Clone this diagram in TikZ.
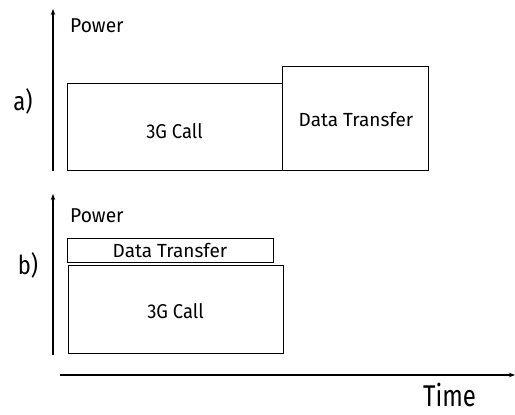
\documentclass[tikz,border=0pt]{standalone}
\usepackage{fontspec}
\setmainfont{Fira Sans}
\newfontfamily\timefont[FakeStretch=0.8]{Fira Sans}
\newfontfamily\callfont[FakeStretch=0.92]{Fira Sans}
\newfontfamily\powfont[FakeStretch=0.96]{Fira Sans}
\newfontfamily\lblfont[FakeStretch=0.85]{Fira Sans}
\usetikzlibrary{arrows.meta}
\begin{document}
\begin{tikzpicture}[x=1pt,y=-1pt,
  blk/.style={draw,line width=1pt,inner sep=0pt},
  axis/.style={line width=1.2pt,-{Stealth[length=6pt,width=4.5pt]}},
  pow/.style={inner sep=0pt,font=\powfont\fontsize{20}{22}\selectfont},
  call/.style={inner sep=0pt,font=\callfont\fontsize{20}{22}\selectfont},
  dt/.style={inner sep=0pt,font=\fontsize{19}{22}\selectfont},
  big/.style={inner sep=0pt,font=\lblfont\fontsize{26}{28}\selectfont}]
\useasboundingbox (0,0) rectangle (515,415);
% panel a
\coordinate (a0) at (53,171);
\coordinate (a1) at (53,9);
\draw[axis] (a0) -- (a1);
\node[pow,anchor=base west] (pa) at (70,32) {Power};
\node[big] (la) at (23,101) {a)};
\node[blk,minimum width=215pt,minimum height=87pt] (calla) at (174.5,126.5) {};
\node[call,anchor=base] (calltxta) at (174.5,138) {3G Call};
\node[blk,minimum width=146pt,minimum height=104pt] (dta) at (355,118) {};
\node[dt,anchor=base] (dttxta) at (356,126) {Data Transfer};
% panel b
\coordinate (b0) at (53,355);
\coordinate (b1) at (53,194);
\draw[axis] (b0) -- (b1);
\node[pow,anchor=base west] (pb) at (70,222) {Power};
\node[big] (lb) at (28,265) {b)};
\node[blk,minimum width=206pt,minimum height=24pt] (dtb) at (170,250) {};
\node[dt,anchor=base] (dttxtb) at (170,257) {Data Transfer};
\node[blk,minimum width=215pt,minimum height=88pt] (callb) at (175.5,309) {};
\node[call,anchor=base] (calltxtb) at (175.5,318) {3G Call};
% time axis
\coordinate (t0) at (60,375);
\coordinate (t1) at (515,375);
\draw[axis] (t0) -- (t1);
\node[inner sep=0pt,font=\timefont\fontsize{30}{32}\selectfont,anchor=base west] (tt) at (423,406) {Time};
\end{tikzpicture}
\end{document}
